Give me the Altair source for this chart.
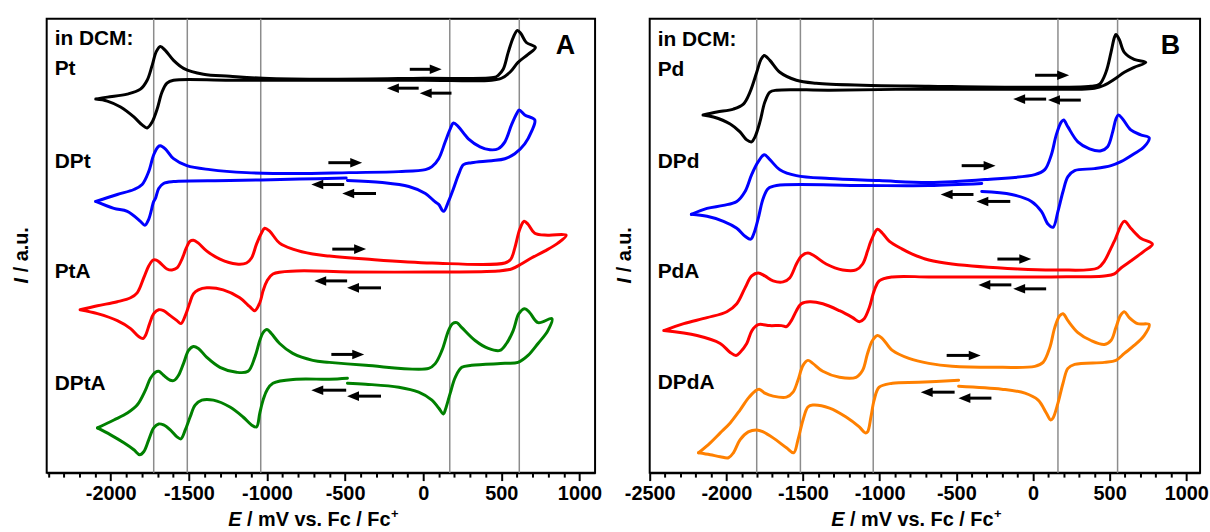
import altair as alt
import pandas as pd

FONT = "Liberation Sans"

# ---------------------------------------------------------------------------
# Cyclic voltammograms, potential E in mV vs. Fc/Fc+, current I in a.u.
# Each loop is listed as one path (switching point to switching point);
# *_BREAK gives the index where a recorded trace restarts (gap in the line).
# ---------------------------------------------------------------------------

# Panel A: platinum complexes
PT_MV = [-2096, -2022, -1894, -1810, -1767, -1735, -1708, -1683, -1651, -1598, -1534, -1407,
         -1237, -1025, -601, 0, 459, 480, 512, 544, 576, 603, 625, 660, 718, 671, 607, 555,
         501, 438, 0, -600, -1237, -1598, -1640, -1672, -1703, -1735, -1767, -1799, -1852,
         -1937, -2022, -2096]
PT_AU = [376, 378, 381, 386, 395, 410, 424, 429, 425, 415, 407, 401, 399, 397, 396, 397, 398,
         400, 406, 423, 438, 445, 442, 433, 428, 421, 413, 403, 397, 395, 395, 395, 395, 395,
         392, 383, 366, 353, 347, 350, 358, 368, 374, 376]
PT_BREAK = None

DPT_MV = [-2096, -1958, -1852, -1799, -1757, -1725, -1697, -1683, -1651, -1598, -1513, -1364,
          -1131, -813, -474, -156, 14, 56, 99, 141, 173, 194, 226, 289, 364, 427, 480, 523,
          565, 597, 614, 650, 714, 692, 650, 586, 523, 438, 310, 258, 226, 194, 162, 130, 99,
          73, 14, -92, -262, -485, -493, -792, -1237, -1598, -1662, -1693, -1714, -1725,
          -1757, -1782, -1810, -1894, -1980, -2096]
DPT_AU = [273, 280, 285, 290, 303, 320, 328, 329, 326, 316, 309, 305, 302, 301, 302, 303, 305,
          308, 316, 333, 346, 352, 348, 336, 328, 325, 326, 333, 350, 361, 365, 360, 355, 343,
          331, 321, 316, 314, 312, 310, 300, 286, 273, 263, 270, 273, 281, 288, 292, 294,
          296.5, 295.5, 294, 293, 291, 286, 276, 273, 255, 249, 253, 263, 266, 273]
DPT_BREAK = 50

PTA_MV = [-2196, -2085, -1958, -1873, -1831, -1789, -1757, -1729, -1708, -1683, -1640, -1608,
          -1576, -1544, -1517, -1492, -1471, -1439, -1385, -1301, -1195, -1131, -1099, -1067,
          -1036, -1015, -983, -919, -835, -707, -601, -368, 56, 523, 561, 586, 618, 646, 671,
          714, 798, 915, 862, 777, 692, 628, 565, 480, 56, -474, -813, -962, -1000, -1025,
          -1046, -1078, -1110, -1174, -1280, -1385, -1439, -1471, -1496, -1523, -1551, -1576,
          -1619, -1662, -1693, -1725, -1751, -1778, -1793, -1821, -1873, -1958, -2085, -2196]
PTA_AU = [164, 168, 172, 176, 181, 196, 208, 214, 214, 211, 205, 204, 206, 215, 226, 233, 234,
          231, 223, 215, 210, 211, 216, 230, 241, 246, 243, 231, 225, 220, 218, 215, 211, 211,
          215, 226, 245, 253, 250, 241, 239, 239, 231, 223, 216, 210, 205, 203, 202, 202, 203,
          200, 193, 183, 171, 163, 167, 176, 184, 186, 184, 180, 170, 158, 150, 153, 158, 163,
          164, 160, 150, 138, 135, 137, 145, 153, 160, 164]
PTA_BREAK = None

DPTA_MV = [-2085, -1980, -1894, -1831, -1778, -1746, -1714, -1693, -1662, -1619, -1593, -1566,
           -1534, -1502, -1471, -1439, -1385, -1301, -1195, -1121, -1078, -1046, -1025, -1000,
           -972, -919, -835, -707, -601, -368, 35, 78, 120, 162, 188, 215, 247, 332, 417, 491,
           533, 576, 612, 650, 682, 735, 824, 798, 735, 671, 607, 523, 310, 247, 205, 173, 141,
           130, 99, 56, -29, -156, -368, -485, -485, -601, -813, -962, -1000, -1025, -1046,
           -1067, -1099, -1153, -1237, -1343, -1417, -1460, -1492, -1523, -1551, -1576, -1619,
           -1662, -1693, -1725, -1757, -1789, -1814, -1852, -1916, -2001, -2085]
DPTA_AU = [45, 53, 60, 68, 83, 95, 101, 102, 98, 93, 93, 98, 110, 123, 127, 125, 116, 106, 101,
           102, 116, 133, 141, 144, 140, 130, 120, 113, 111, 108, 105, 110, 123, 143, 150, 151,
           146, 133, 125, 123, 130, 143, 160, 165, 161, 151, 155, 143, 130, 118, 111, 110, 108,
           106, 96, 80, 63, 59, 65, 73, 81, 86, 89, 90, 95, 94, 94, 90, 83, 73, 60, 46, 48, 56,
           66, 73, 73, 68, 56, 43, 34, 36, 43, 48, 49, 45, 33, 21, 18, 23, 30, 38, 45]
DPTA_BREAK = 64

# Panel B: palladium complexes
PD_MV = [-2152, -2062, -1954, -1889, -1846, -1802, -1774, -1753, -1716, -1651, -1543, -1414,
         -1111, -679, -96, 379, 434, 476, 509, 531, 541, 563, 596, 660, 736, 660, 596, 531,
         466, 401, -96, -744, -1327, -1673, -1716, -1749, -1781, -1813, -1835, -1867, -1911,
         -1975, -2084, -2152]
PD_AU = [360, 363, 366, 371, 383, 403, 416, 420, 415, 403, 395, 392, 390, 389, 388, 389, 391,
         403, 423, 438, 441, 436, 423, 416, 413, 408, 403, 396, 390, 387, 386, 386, 385, 385,
         383, 373, 353, 338, 333, 335, 343, 351, 358, 360]
PD_BREAK = None

DPD_MV = [-2228, -2126, -2019, -1932, -1878, -1835, -1792, -1753, -1716, -1651, -1543, -1327,
          -1003, -679, -312, 12, 77, 120, 152, 185, 200, 228, 293, 369, 444, 487, 520, 541,
          557, 585, 638, 703, 758, 725, 660, 574, 509, 401, 272, 228, 196, 163, 131, 99, 55,
          -10, -139, -334, -334, -679, -1111, -1673, -1727, -1760, -1792, -1820, -1841, -1878,
          -1932, -2019, -2126, -2228]
DPD_AU = [260, 266, 269, 273, 283, 300, 313, 320, 315, 305, 299, 296, 294, 292, 295, 300, 305,
          320, 340, 353, 355, 348, 333, 326, 324, 328, 343, 356, 360, 356, 345, 340, 337, 328,
          321, 313, 309, 306, 304, 298, 283, 263, 247, 250, 263, 273, 280, 283, 291, 289, 289,
          289, 286, 276, 256, 241, 235, 238, 246, 253, 258, 260]
DPD_BREAK = 48

PDA_MV = [-2408, -2278, -2126, -1997, -1932, -1878, -1835, -1792, -1749, -1695, -1630, -1587,
          -1543, -1511, -1468, -1425, -1349, -1241, -1154, -1111, -1079, -1057, -1014, -982,
          -938, -852, -787, -679, -528, -96, 163, 423, 466, 509, 531, 596, 638, 703, 779, 725,
          638, 574, 531, 466, 120, -312, -679, -917, -1003, -1036, -1068, -1101, -1133, -1176,
          -1262, -1371, -1457, -1511, -1543, -1576, -1608, -1640, -1716, -1792, -1833, -1867,
          -1911, -1937, -1975, -2040, -2191, -2408]
PDA_AU = [143, 150, 156, 162, 170, 186, 198, 201, 198, 193, 192, 196, 210, 218, 221, 218, 210,
          204, 204, 210, 223, 233, 245, 241, 233, 225, 220, 214, 210, 205, 204, 206, 213, 226,
          233, 253, 246, 236, 230, 223, 213, 206, 200, 198, 197, 197, 197, 197, 193, 183, 166,
          155, 152, 156, 163, 170, 172, 170, 163, 153, 147, 148, 148, 149, 143, 130, 121, 118,
          121, 130, 138, 143]
PDA_BREAK = None

DPDA_MV = [-2181, -2105, -2040, -1975, -1911, -1857, -1813, -1786, -1749, -1695, -1608, -1565,
           -1533, -1500, -1468, -1436, -1371, -1262, -1154, -1111, -1079, -1047, -1014, -982,
           -917, -809, -679, -528, -204, 12, 66, 110, 142, 174, 196, 228, 293, 379, 466, 509,
           541, 570, 596, 628, 682, 758, 725, 660, 596, 541, 466, 272, 228, 196, 163, 131, 116,
           87, 34, -52, -204, -485, -485, -744, -917, -1003, -1036, -1057, -1079, -1094, -1133,
           -1219, -1327, -1436, -1468, -1500, -1533, -1561, -1608, -1695, -1760, -1802, -1857,
           -1911, -1954, -1986, -2040, -2105, -2181]
DPDA_AU = [20, 30, 40, 50, 63, 75, 82, 84, 80, 77, 76, 81, 93, 108, 113, 110, 102, 96, 96, 103,
           120, 133, 138, 135, 123, 115, 110, 107, 106, 107, 111, 126, 146, 158, 160, 153, 141,
           133, 129, 133, 146, 158, 162, 156, 150, 149, 138, 128, 120, 113, 111, 109, 105, 90,
           70, 55, 53, 60, 73, 80, 84, 87, 93, 91, 90, 86, 73, 56, 41, 40, 46, 56, 65, 68, 66,
           53, 33, 20, 25, 35, 41, 43, 41, 33, 20, 15, 16, 18, 20]
DPDA_BREAK = 62

# Half-wave potentials marked by grey guide lines
GUIDES_A = [-1725, -1510, -1040, 170, 615]
GUIDES_B = [-1802, -1517, -1042, 163, 552]

# Scan-direction arrows: tail potential, head potential, current level
ARROW_A_TAIL = [-86, -29, 181, -607, -506, -302, -582, -487, -270, -588, -493, -270]
ARROW_A_HEAD = [118, -232, -22, -391, -716, -518, -366, -697, -487, -378, -716, -487]
ARROW_A_AU = [406, 387, 382, 312, 290, 281, 225, 193, 186, 119, 83, 77]
ARROW_B_TAIL = [14, 86, 312, -465, -388, -148, -232, -141, 86, -563, -511, -271]
ARROW_B_HEAD = [235, -128, 99, -245, -601, -368, -12, -355, -128, -342, -731, -485]
ARROW_B_AU = [400, 376, 375, 309, 280, 273, 215, 189, 185, 118, 81, 75]

# Compound names and their label anchors
NAMES_A = ["Pt", "DPt", "PtA", "DPtA"]
NAMES_B = ["Pd", "DPd", "PdA", "DPdA"]
LABELS_A = ["in DCM:", "Pt", "DPt", "PtA", "DPtA"]
LABELS_B = ["in DCM:", "Pd", "DPd", "PdA", "DPdA"]
LABEL_A_MV = -2359
LABEL_B_MV = -2448
LABEL_A_AU = [430, 400, 306.5, 195.5, 83.5]
LABEL_B_AU = [429.5, 399.5, 306.5, 195.5, 84.5]

COLOR_DOMAIN = NAMES_A + NAMES_B
COLOR_RANGE = ["#000000", "#0000ff", "#ff0000", "#008000",
               "#000000", "#0000ff", "#ff0000", "#ff8000"]

A_DOMAIN = [-2410, 1100]
B_DOMAIN = [-2500, 1090]
AU_DOMAIN = [0, 457]
PLOT_H = 457


def curve_frame(names, mv_lists, au_lists, breaks):
    rows = []
    for name, xs, ys, brk in zip(names, mv_lists, au_lists, breaks):
        for i, (x, y) in enumerate(zip(xs, ys)):
            part = 1 if (brk is not None and i >= brk) else 0
            rows.append({"curve": name, "part": f"{name}-{part}", "i": i, "mV": x, "au": y})
    return pd.DataFrame(rows)


def make_panel(domain, first_tick, width, names, mv_lists, au_lists, breaks, guides,
               a_tail, a_head, a_au, labels, label_mv, label_au, letter, letter_mv):
    x_axis = alt.Axis(
        values=list(range(first_tick, 1001, 100)),
        labelExpr="datum.value % 500 === 0 ? '' + datum.value : ''",
        tickSize={"condition": {"test": "datum.value % 500 === 0", "value": 8}, "value": 4.5},
        tickWidth=2, tickColor="black", domainColor="black", domainWidth=2,
        labelFont=FONT, labelFontSize=20, labelFontWeight="bold", labelColor="black",
        labelPadding=3, labelOverlap=False, labelFlush=False, labelBound=False,
        grid=False, title=None,
    )
    x_scale = alt.Scale(domain=domain, nice=False, zero=False)
    y_scale = alt.Scale(domain=AU_DOMAIN, nice=False, zero=False)

    def xe(field):
        return alt.X(f"{field}:Q", scale=x_scale, axis=x_axis)

    def ye(field):
        return alt.Y(f"{field}:Q", scale=y_scale, axis=None)

    guide_rules = alt.Chart(pd.DataFrame({"mV": guides})).mark_rule(
        color="#8c8c8c", strokeWidth=1.5
    ).encode(x=xe("mV"))

    curves = alt.Chart(curve_frame(names, mv_lists, au_lists, breaks)).mark_line(
        strokeWidth=3, interpolate="catmull-rom", strokeJoin="round", strokeCap="round"
    ).encode(
        x=xe("mV"), y=ye("au"),
        color=alt.Color("curve:N", scale=alt.Scale(domain=COLOR_DOMAIN, range=COLOR_RANGE),
                        legend=None),
        detail="part:N",
        order="i:Q",
    )

    arrows = alt.Chart(pd.DataFrame({"tail": a_tail, "head": a_head, "au": a_au})).transform_calculate(
        back="datum.head > datum.tail ? -38 : 38"
    ).transform_calculate(
        tip="datum.head + datum.back",
        sym="datum.head > datum.tail ? 'M-1,-0.8L1,0L-1,0.8Z' : 'M1,-0.8L-1,0L1,0.8Z'",
    )
    shafts = arrows.mark_rule(color="black", strokeWidth=3).encode(
        x=xe("tail"), x2="tip:Q", y=ye("au")
    )
    heads = arrows.mark_point(filled=True, color="black", opacity=1, size=144, strokeWidth=0).encode(
        x=xe("tip"), y=ye("au"), shape=alt.Shape("sym:N", scale=None)
    )

    text_style = dict(font=FONT, fontWeight="bold", color="black")
    names_text = alt.Chart(pd.DataFrame({
        "text": labels, "mV": [label_mv] * len(labels), "au": label_au
    })).mark_text(align="left", baseline="alphabetic", fontSize=21, **text_style).encode(
        x=xe("mV"), y=ye("au"), text="text:N"
    )
    letter_text = alt.Chart(pd.DataFrame({"text": [letter], "mV": [letter_mv], "au": [421.5]})).mark_text(
        align="center", baseline="alphabetic", fontSize=27, **text_style
    ).encode(x=xe("mV"), y=ye("au"), text="text:N")

    one = alt.Data(values=[{}])
    title_e = alt.Chart(one).mark_text(
        text="E", align="right", baseline="alphabetic", fontSize=20, fontStyle="italic", **text_style
    ).encode(x=alt.value(196), y=alt.value(PLOT_H + 54))
    title_rest = alt.Chart(one).mark_text(
        text="/ mV vs. Fc / Fc", align="left", baseline="alphabetic", fontSize=20, **text_style
    ).encode(x=alt.value(201.6), y=alt.value(PLOT_H + 54))
    title_plus = alt.Chart(one).mark_text(
        text="+", align="left", baseline="alphabetic", fontSize=13, **text_style
    ).encode(x=alt.value(346.5), y=alt.value(PLOT_H + 46))
    title_i = alt.Chart(one).mark_text(
        text="I", angle=270, align="right", baseline="middle", fontSize=20, fontStyle="italic",
        **text_style
    ).encode(x=alt.value(-25), y=alt.value(261))
    title_au = alt.Chart(one).mark_text(
        text="/ a.u.", angle=270, align="left", baseline="middle", fontSize=20, **text_style
    ).encode(x=alt.value(-25), y=alt.value(255.4))

    return alt.layer(
        guide_rules, curves, shafts, heads, names_text, letter_text,
        title_e, title_rest, title_plus, title_i, title_au,
    ).properties(width=width, height=PLOT_H)


panel_a = make_panel(A_DOMAIN, -2400, 552, NAMES_A,
                     [PT_MV, DPT_MV, PTA_MV, DPTA_MV], [PT_AU, DPT_AU, PTA_AU, DPTA_AU],
                     [PT_BREAK, DPT_BREAK, PTA_BREAK, DPTA_BREAK],
                     GUIDES_A, ARROW_A_TAIL, ARROW_A_HEAD, ARROW_A_AU,
                     LABELS_A, LABEL_A_MV, LABEL_A_AU, "A", 910)
panel_b = make_panel(B_DOMAIN, -2500, 554, NAMES_B,
                     [PD_MV, DPD_MV, PDA_MV, DPDA_MV], [PD_AU, DPD_AU, PDA_AU, DPDA_AU],
                     [PD_BREAK, DPD_BREAK, PDA_BREAK, DPDA_BREAK],
                     GUIDES_B, ARROW_B_TAIL, ARROW_B_HEAD, ARROW_B_AU,
                     LABELS_B, LABEL_B_MV, LABEL_B_AU, "B", 896)

chart = alt.hconcat(panel_a, panel_b, spacing=10).properties(
    padding={"left": 10, "top": 15, "right": 0, "bottom": 0},
    background="white",
).configure_view(stroke="black", strokeWidth=2)

chart.save("out.html", embed_options={"renderer": "svg", "actions": False})
